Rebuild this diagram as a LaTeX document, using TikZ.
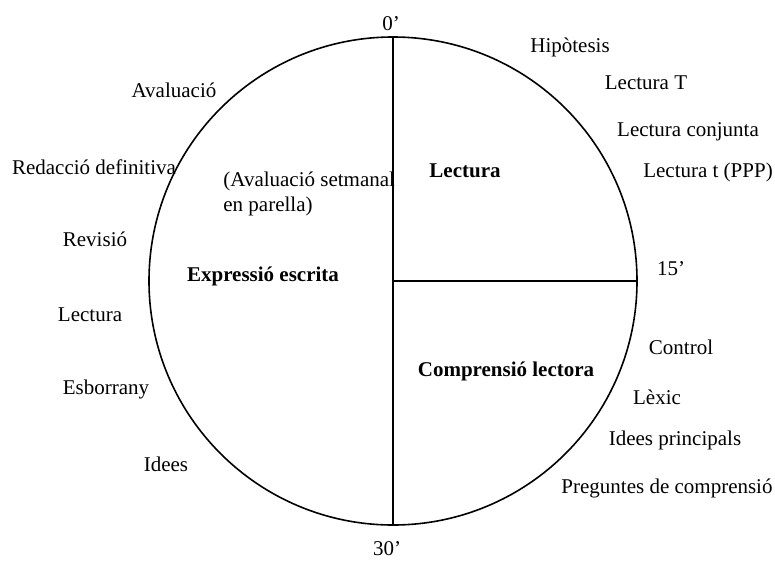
\documentclass[tikz,border=0pt]{standalone}
\usepackage{fontspec}
\setmainfont{Liberation Serif}
\begin{document}
\begin{tikzpicture}[x=0.5pt,y=-0.5pt,
  lbl/.style={font=\fontsize{10.5}{12.5}\selectfont, inner sep=0pt},
  part/.style={font=\fontsize{10.5}{12.5}\selectfont\bfseries, inner sep=0pt}]
\useasboundingbox (0,0) rectangle (775,562);

\node[circle, draw, line width=0.8pt, minimum size=244pt, inner sep=0pt] (clock) at (393,281) {};
\draw[line width=0.7pt] (clock.north) -- (clock.south);
\draw[line width=0.7pt] (clock.center) -- (clock.east);

\node[lbl] (t0) at (391,24) {0'};
\node[lbl] (t15) at (671,269) {15'};
\node[lbl] (t30) at (387,549) {30'};

\node[part] (lect) at (465,171) {Lectura};
\node[part] (expr) at (263,276) {Expressió escrita};
\node[part] (compr) at (506,371) {Comprensió lectora};
\node[lbl, align=left, anchor=west] (setm) at (223,194) {(Avaluació setmanal\\en parella)};

% lectura
\node[lbl] (hipo) at (570,47) {Hipòtesis};
\node[lbl] (lectT) at (646,83) {Lectura T};
\node[lbl] (conj) at (688,132) {Lectura conjunta};
\node[lbl] (ppp) at (708,172) {Lectura t (PPP)};

% comprensio
\node[lbl] (contr) at (681,347) {Control};
\node[lbl] (lexic) at (657,397) {Lèxic};
\node[lbl] (princ) at (675,440) {Idees principals};
\node[lbl] (preg) at (667,488) {Preguntes de comprensió};

% expressio
\node[lbl] (idees) at (166,464) {Idees};
\node[lbl] (esbor) at (106,389) {Esborrany};
\node[lbl] (lect2) at (90,315) {Lectura};
\node[lbl] (revis) at (95,239) {Revisió};
\node[lbl] (redac) at (94,167) {Redacció definitiva};
\node[lbl] (aval) at (174,90) {Avaluació};
\end{tikzpicture}
\end{document}
